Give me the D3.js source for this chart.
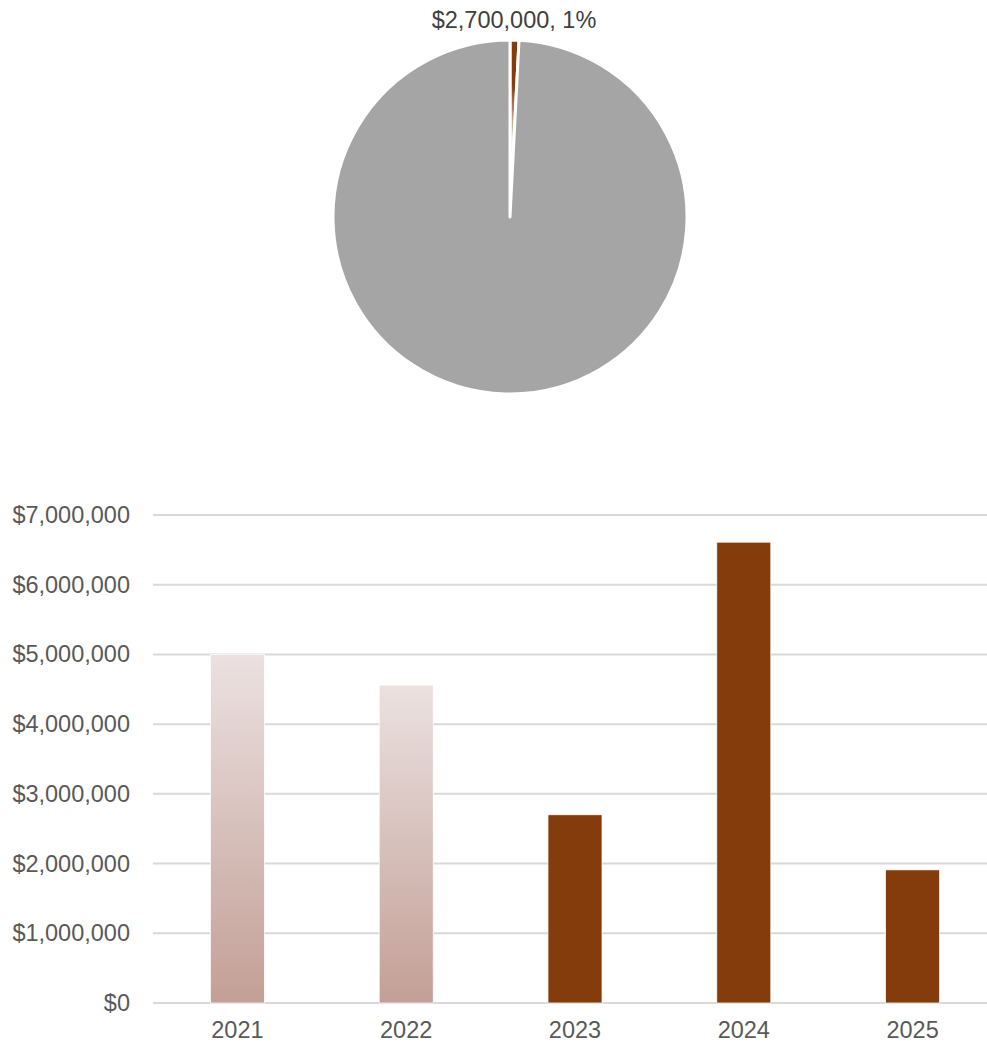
<!DOCTYPE html>
<html>
<head>
<meta charset="utf-8">
<script src="https://cdn.jsdelivr.net/npm/d3@7"></script>
<style>
  body { margin: 0; background: #fff; }
  svg { display: block; font-family: "Liberation Sans", Arial, sans-serif; }
</style>
</head>
<body>
<svg id="chart" width="987" height="1044"></svg>
<script>
// --- data ---
var pieNames = ["Selected", "Rest"];
var pieValues = [2700000, 330000000];

var years = ["2021", "2022", "2023", "2024", "2025"];
var amounts = [5000000, 4560000, 2700000, 6610000, 1910000];
var yTicks = [0, 1000000, 2000000, 3000000, 4000000, 5000000, 6000000, 7000000];

var brown = "#843c0c";
var grey = "#a5a5a5";
var textCol = "#595959";
var fontSize = 23.5;

var svg = d3.select("#chart");
var defs = svg.append("defs");

// gradient for the past years (lighter at top)
var grad = defs.append("linearGradient")
    .attr("id", "pastGrad")
    .attr("x1", 0).attr("y1", 0).attr("x2", 0).attr("y2", 1);
grad.append("stop").attr("offset", "0%").attr("stop-color", "#ebe1e0");
grad.append("stop").attr("offset", "100%").attr("stop-color", "#c39f96");

// slice gradient: fades toward the centre
var sliceGrad = defs.append("radialGradient")
    .attr("id", "sliceGrad")
    .attr("gradientUnits", "userSpaceOnUse")
    .attr("cx", 0).attr("cy", 0).attr("r", 177);
sliceGrad.append("stop").attr("offset", "0%").attr("stop-color", "#ffffff");
sliceGrad.append("stop").attr("offset", "45%").attr("stop-color", "#e8d3c5");
sliceGrad.append("stop").attr("offset", "75%").attr("stop-color", brown);
sliceGrad.append("stop").attr("offset", "100%").attr("stop-color", brown);

// --- pie ---
var cx = 510, cy = 217, radius = 177;
var pie = d3.pie().sort(null).value(d => d)(pieValues);
var arc = d3.arc().innerRadius(0).outerRadius(radius);
var total = d3.sum(pieValues);

var pg = svg.append("g").attr("transform", "translate(" + cx + "," + cy + ")");
pg.selectAll("path")
    .data(pie)
    .enter()
    .append("path")
    .attr("d", arc)
    .attr("fill", (d, i) => i === 0 ? "url(#sliceGrad)" : grey)
    .attr("stroke", "#fff")
    .attr("stroke-width", 3)
    .attr("stroke-linejoin", "round");

var fmtMoney = d3.format("$,.0f");
var fmtPct = d3.format(".0%");
var first = pie[0];
var mid = (first.startAngle + first.endAngle) / 2;
svg.append("text")
    .attr("x", cx + Math.sin(mid) * (radius + 20) - 1)
    .attr("y", cy - Math.cos(mid) * (radius + 20) + 8)
    .attr("text-anchor", "middle")
    .attr("font-size", fontSize)
    .attr("fill", "#404040")
    .text(fmtMoney(pieValues[0]) + ", " + fmtPct(pieValues[0] / total));

// --- bar chart ---
// plot area runs a little past the right edge of the picture
var plotLeft = 153, plotRight = 997, gridRight = 987, plotTop = 515, plotBottom = 1003;

var y = d3.scaleLinear().domain([0, 7000000]).range([plotBottom, plotTop]);
var x = d3.scaleBand().domain(years).range([plotLeft, plotRight])
    .paddingInner(0.68).paddingOuter(0.34);

svg.append("g")
    .selectAll("line")
    .data(yTicks)
    .enter()
    .append("line")
    .attr("x1", plotLeft).attr("x2", gridRight)
    .attr("y1", d => y(d)).attr("y2", d => y(d))
    .attr("stroke", "#d9d9d9")
    .attr("stroke-width", 2);

svg.append("g")
    .selectAll("text")
    .data(yTicks)
    .enter()
    .append("text")
    .attr("x", 130)
    .attr("y", d => y(d) + 8)
    .attr("text-anchor", "end")
    .attr("font-size", fontSize)
    .attr("fill", textCol)
    .text(d => fmtMoney(d));

svg.append("g")
    .selectAll("rect")
    .data(amounts)
    .enter()
    .append("rect")
    .attr("x", (d, i) => x(years[i]))
    .attr("width", x.bandwidth())
    .attr("y", d => y(d))
    .attr("height", d => plotBottom - y(d))
    .attr("fill", (d, i) => i < 2 ? "url(#pastGrad)" : brown)
    .attr("stroke", "#fff")
    .attr("stroke-width", 0.75);

svg.append("g")
    .selectAll("text")
    .data(years)
    .enter()
    .append("text")
    .attr("x", d => x(d) + x.bandwidth() / 2)
    .attr("y", plotBottom + 35)
    .attr("text-anchor", "middle")
    .attr("font-size", fontSize)
    .attr("fill", textCol)
    .text(d => d);
</script>
</body>
</html>
